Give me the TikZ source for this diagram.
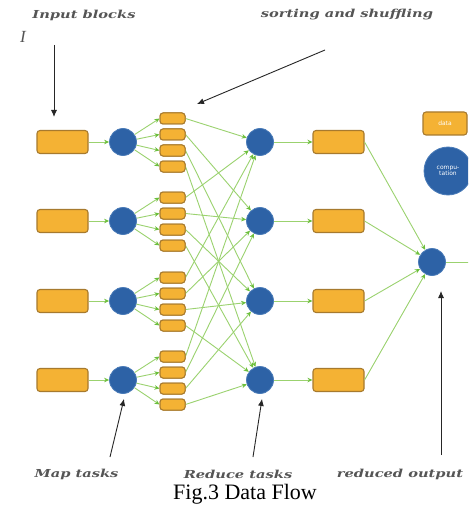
\documentclass[tikz,border=0pt]{standalone}
\usepackage{fontspec}
\setmainfont{Liberation Serif}
\newfontfamily\notefont{DejaVu Serif}
\newfontfamily\labfont{DejaVu Sans}
\usetikzlibrary{arrows.meta,calc}
\definecolor{boxfill}{HTML}{F4B234}
\definecolor{boxedge}{HTML}{A77A2E}
\definecolor{circfill}{HTML}{2D62A6}
\definecolor{circedge}{HTML}{4A7BB8}
\definecolor{flowgreen}{HTML}{9BD26F}
\definecolor{headgreen}{HTML}{6CBF3C}
\definecolor{notegray}{HTML}{555555}
\tikzset{
  blk/.style={draw=boxedge, fill=boxfill, rounded corners=3pt, line width=1.1pt,
    minimum width=51pt, minimum height=23pt, inner sep=0pt},
  sblk/.style={draw=boxedge, fill=boxfill, rounded corners=3pt, line width=1pt,
    minimum width=25pt, minimum height=11pt, inner sep=0pt},
  task/.style={circle, draw=circedge, fill=circfill, line width=0.8pt,
    minimum size=27pt, inner sep=0pt},
  flow/.style={draw=flowgreen, line width=0.9pt,
    -{Stealth[length=5pt,width=4.5pt,color=headgreen]}},
  note/.style={font=\notefont\bfseries\itshape\fontsize{11}{13}\selectfont, text=notegray,
    inner sep=0pt, xscale=1.33},
  legendtext/.style={font=\labfont\fontsize{6}{6.5}\selectfont, text=white},
  pointer/.style={draw=black!85, line width=0.9pt, -{Latex[length=7pt,width=6pt]}},
}
\begin{document}
\begin{tikzpicture}[x=1pt,y=-1pt]
\clip (0,0) rectangle (468,505);
\fill[white] (0,0) rectangle (468,505);
% rows
\foreach \r/\y in {1/142,2/221,3/301,4/380}{
  \node[blk] (in\r) at (62.5,\y) {};
  \node[task] (map\r) at (123,\y) {};
  \node[task] (red\r) at (260,\y) {};
  \node[blk] (out\r) at (338.5,\y) {};
  \foreach \j/\d in {1/-24,2/-8,3/8,4/24}{
    \node[sblk] (s\r\j) at (172.5,\y+\d+0.5) {};
  }
}
\node[task] (fin) at (432,262) {};
\coordinate (finout) at (478,262);
% legend
\node[blk, minimum width=44pt, minimum height=23pt, legendtext] (data) at (445,123.5) {data};
\node[task, minimum size=48pt, align=center, legendtext] (comp) at (448,171) {compu-\\tation};
% flows
\foreach \r in {1,2,3,4}{
  \draw[flow] (in\r) -- (map\r);
  \draw[flow] (red\r) -- (out\r);
  \draw[flow] (out\r.east) -- (fin);
  \foreach \j in {1,2,3,4}{
    \draw[flow] (map\r) -- (s\r\j.west);
    \draw[flow] (s\r\j.east) -- (red\j);
  }
}
\draw[flow] (fin) -- (finout);
% redraw small boxes on top of lines
\foreach \r/\y in {1/142,2/221,3/301,4/380}{
  \foreach \j/\d in {1/-24,2/-8,3/8,4/24}{
    \node[sblk] at (172.5,\y+\d+0.5) {};
  }
}
% annotations
\node[note] (tin) at (84,15) {Input blocks};
\node[text=notegray, font=\itshape\fontsize{17}{18}\selectfont, inner sep=0pt] (cursor) at (23,37) {I};
\node[note] (tsort) at (347,15) {sorting and shuffling};
\node[note] (tmap) at (76.5,474) {Map tasks};
\node[note] (tred) at (238,474) {Reduce tasks};
\node[note] (tout) at (400,474) {reduced output};
\node[font=\fontsize{22}{24}\selectfont, inner sep=0pt, anchor=base] (cap) at (245,499) {Fig.3 Data Flow};
\coordinate (pin0) at (54,45);
\coordinate (pin1) at (54,117);
\coordinate (ps0) at (325,50);
\coordinate (ps1) at (197,104);
\coordinate (pm0) at (110,457);
\coordinate (pr0) at (253,457);
\coordinate (po0) at (441,455);
\draw[pointer] (pin0) -- (pin1);
\draw[pointer] (ps0) -- (ps1);
\draw[pointer] (pm0) -- ($(map4.south)+(1,5)$);
\draw[pointer] (pr0) -- ($(red4.south)+(2,5)$);
\draw[pointer] (po0) -- (441,291);
\end{tikzpicture}
\end{document}
